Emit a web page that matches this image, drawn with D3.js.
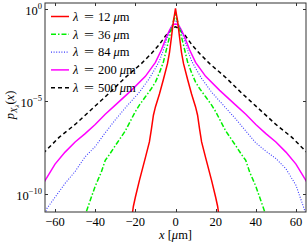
<!DOCTYPE html>
<html><head><meta charset="utf-8">
<script src="https://cdn.jsdelivr.net/npm/d3@7"></script>
<style>
html,body{margin:0;padding:0;background:#fff;}
svg{display:block;}
text{font-family:"Liberation Serif","Times New Roman",serif;fill:#000;}
</style></head><body>
<svg id="c" width="307" height="242"></svg>
<script>
// ---- data (log10 of p) ----
const seriesNames = ["12", "36", "84", "200", "500"];
const colors = ["#ff0000", "#00f000", "#3a3aff", "#ff00ff", "#000000"];
const dashes = [null, "5,2,1.5,2", "1,1.6", null, "4,3"];
const widths = [1.5, 1.5, 1.1, 1.5, 1.5];

const x12 = [-22,-21,-20,-18,-15,-13,-12,-11,-10,-8,-6,-4,-3,-2,-1,-0.5,0,0.5,1,2,3,4,6,8,10,11,12,13,15,18,20,21,22];
const y12 = [-11.5,-10.7,-10.2,-9.3,-8.05,-7.2,-6.5,-5.75,-5.3,-4.6,-3.8,-2.95,-2.35,-1.5,-0.6,-0.3,0.05,-0.3,-0.6,-1.5,-2.35,-2.95,-3.8,-4.6,-5.3,-5.75,-6.5,-7.2,-8.05,-9.3,-10.2,-10.7,-11.5];

const x36 = [-46,-44,-40,-37,-35,-33,-30,-25,-20,-18,-15,-12,-10,-8,-6,-4,-3,-2,-1,0,1,2,3,4,6,8,10,12,15,18,20,25,30,33,35,37,40,44,46];
const y36 = [-11.5,-10.85,-9.6,-8.85,-8.2,-7.9,-7.4,-6.6,-5.55,-5.2,-4.75,-4.3,-3.95,-3.45,-2.85,-1.95,-1.5,-1.05,-0.65,-0.3,-0.65,-1.05,-1.5,-1.95,-2.85,-3.45,-3.95,-4.3,-4.75,-5.2,-5.55,-6.6,-7.4,-7.9,-8.2,-8.85,-9.6,-10.85,-11.5];

const x84 = [-66,-64,-60,-55,-50,-45,-40,-35,-30,-25,-18,-13,-10,-8,-6,-4,-2,-1,0,1,2,4,6,8,10,13,18,25,30,35,40,45,50,55,60,64,66];
const y84 = [-11.5,-10.8,-10.2,-9.45,-8.8,-8.0,-7.45,-6.7,-6.0,-5.35,-4.5,-3.75,-3.2,-2.8,-2.2,-1.5,-0.95,-0.75,-0.6,-0.75,-0.95,-1.5,-2.2,-2.8,-3.2,-3.75,-4.5,-5.35,-5.95,-6.6,-7.25,-7.7,-8.1,-8.65,-9.55,-10.8,-11.5];

const x200 = [-66,-65,-60,-55,-50,-45,-40,-35,-30,-22,-15,-10,-7,-4.4,-3,-2,-1,0,1,2,3,4.4,7,10,15,22,30,35,40,45,50,55,60,65,66];
const y200 = [-9.5,-9.3,-8.4,-7.75,-7.2,-6.75,-6.25,-5.7,-5.2,-4.4,-3.64,-2.88,-2.2,-1.47,-1.15,-0.95,-0.82,-0.8,-0.82,-0.95,-1.15,-1.47,-2.2,-2.88,-3.64,-4.4,-5.2,-5.7,-6.25,-6.75,-7.2,-7.75,-8.4,-9.3,-9.5];

const x500 = [-66,-65,-58,-50,-41,-33,-25,-17,-12,-8,-5,-2,-1,0,1,2,5,8,12,17,25,33,41,50,58,65,66];
const y500 = [-7.8,-7.72,-6.95,-6.25,-5.35,-4.55,-3.7,-2.95,-2.4,-1.9,-1.45,-1.1,-1.0,-0.95,-1.0,-1.1,-1.45,-1.9,-2.4,-2.95,-3.7,-4.55,-5.35,-6.25,-6.95,-7.72,-7.8];

const xTicks = [-60,-40,-20,0,20,40,60];
const yTickExp = [0,-5,-10];
const allX = [x12,x36,x84,x200,x500];
const allY = [y12,y36,y84,y200,y500];

// ---- layout ----
const L = 45, R = 306, T = 3, B = 212;
const svg = d3.select("#c");
const x = d3.scaleLinear().domain([-65,65]).range([L,R]);
const y = d3.scaleLog().domain([1e-11, Math.pow(10,0.34)]).range([B,T]);

svg.append("clipPath").attr("id","clip").append("rect")
  .attr("x",L).attr("y",T).attr("width",R-L).attr("height",B-T);

const line = d3.line().x(d=>x(d[0])).y(d=>y(Math.pow(10,d[1])));
const g = svg.append("g").attr("clip-path","url(#clip)");
for (let i = 4; i >= 0; i--) {
  const pts = allX[i].map((v,j)=>[v, allY[i][j]]);
  g.append("path").attr("d", line(pts)).attr("fill","none")
    .attr("stroke", colors[i]).attr("stroke-width", widths[i])
    .attr("stroke-dasharray", dashes[i]);
}

// ---- axes box & ticks ----
const axCol = "#333";
svg.append("rect").attr("x",L).attr("y",T).attr("width",R-L).attr("height",B-T)
  .attr("fill","none").attr("stroke",axCol).attr("stroke-width",1);
const tk = 3;
xTicks.forEach(t=>{
  const px = Math.round(x(t))+0.5;
  svg.append("line").attr("x1",px).attr("x2",px).attr("y1",B).attr("y2",B-tk).attr("stroke",axCol);
  svg.append("line").attr("x1",px).attr("x2",px).attr("y1",T).attr("y2",T+tk).attr("stroke",axCol);
  svg.append("text").attr("x",x(t)).attr("y",226).attr("text-anchor","middle")
    .attr("font-size",12.5).text(t<0 ? "\u2212"+Math.abs(t) : t);
});
yTickExp.forEach(e=>{
  const py = Math.round(y(Math.pow(10,e)))+0.5;
  svg.append("line").attr("x1",L).attr("x2",L+tk).attr("y1",py).attr("y2",py).attr("stroke",axCol);
  svg.append("line").attr("x1",R).attr("x2",R-tk).attr("y1",py).attr("y2",py).attr("stroke",axCol);
  const t = svg.append("text").attr("x",L-3).attr("y",py+5).attr("text-anchor","end").attr("font-size",12.5);
  t.append("tspan").text("10");
  t.append("tspan").attr("dy",-6).attr("font-size",8.5).text(e===0?"0":"\u2212"+Math.abs(e));
});

// axis labels
const xl = svg.append("text").attr("x",x(0)).attr("y",239).attr("text-anchor","middle").attr("font-size",12.5);
xl.append("tspan").attr("font-style","italic").text("x");
xl.append("tspan").text(" [");
xl.append("tspan").attr("font-style","italic").text("\u03bc");
xl.append("tspan").text("m]");

const yl = svg.append("text").attr("transform","translate(14,105) rotate(-90)").attr("text-anchor","middle").attr("font-size",12.5);
yl.append("tspan").attr("font-style","italic").text("p");
yl.append("tspan").attr("font-style","italic").attr("font-size",9).attr("dy",3).text("X");
yl.append("tspan").attr("font-style","italic").attr("font-size",7).attr("dy",2).text("\u03bb");
yl.append("tspan").attr("dy",-5).text("(");
yl.append("tspan").attr("font-style","italic").text("x");
yl.append("tspan").text(")");

// ---- legend ----
const lgX1 = 51, lgX2 = 69, lgY0 = 16.5, lgDy = 17.8;
seriesNames.forEach((n,i)=>{
  const yy = lgY0 + i*lgDy;
  svg.append("line").attr("x1",lgX1).attr("x2",lgX2).attr("y1",yy).attr("y2",yy)
    .attr("stroke",colors[i]).attr("stroke-width",widths[i]).attr("stroke-dasharray",dashes[i]);
  const by = yy + 4.3;
  svg.append("text").attr("x",73).attr("y",by).attr("font-size",12.5).attr("font-style","italic").text("\u03bb");
  svg.append("text").attr("x",84).attr("y",by).attr("font-size",12.5)
    .attr("textLength",10).attr("lengthAdjust","spacingAndGlyphs").text("=");
  svg.append("text").attr("x",98).attr("y",by).attr("font-size",12.5).text(n);
  const w = n.length*6.25;
  const t = svg.append("text").attr("x",98+w+3).attr("y",by).attr("font-size",12.5);
  t.append("tspan").attr("font-style","italic").text("\u03bc");
  t.append("tspan").text("m");
});
</script></body></html>
